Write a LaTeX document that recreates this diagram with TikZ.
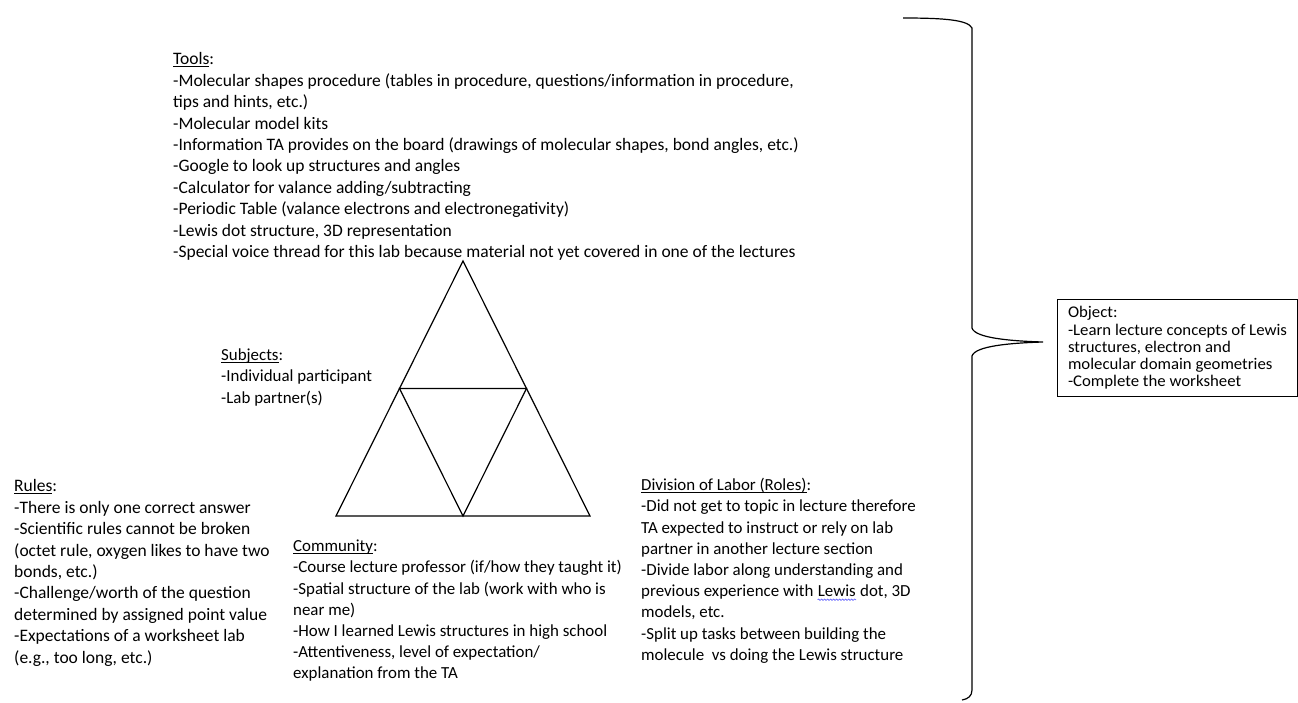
\documentclass[tikz,border=0pt]{standalone}
\usepackage{fontspec}
\setmainfont{Carlito}
\newfontfamily\objfont[FakeStretch=1.03]{Carlito}
\usepackage{xcolor}
\usetikzlibrary{decorations.pathmorphing}
\newcommand\ul[1]{\underline{\smash{#1}}}
\newcommand\spellwave[1]{\tikz[baseline=(lewisword.base)]{\node[inner sep=0pt,anchor=base] (lewisword) {#1};
  \draw[blue!65, line width=0.6pt, decorate, decoration={snake, amplitude=0.7pt, segment length=3pt}]
    ([yshift=-3pt]lewisword.base west) -- ([yshift=-3pt]lewisword.base east);}}
\begin{document}
\begin{tikzpicture}[x=1pt,y=-1pt,
  txt/.style={anchor=north west, inner sep=0pt, align=left, font=\fontsize{17.5}{21.4}\selectfont},
  txtsm/.style={txt, font=\fontsize{16.9}{21.2}\selectfont},
  objbox/.style={draw, line width=1pt, anchor=north west, inner xsep=10pt, inner ysep=0pt,
    minimum width=240pt, minimum height=97pt, align=left, font=\objfont\fontsize{16.3}{17.3}\selectfont},
  edge/.style={line width=1.2pt, line join=miter}]
\useasboundingbox (0,0) rectangle (1298,702);

% activity triangle
\coordinate (apex) at (463,261);
\coordinate (bl) at (336,516);
\coordinate (br) at (590,516);
\coordinate (ml) at (399.5,388.5);
\coordinate (mr) at (526.5,388.5);
\coordinate (mb) at (463,516);
\draw[edge] (apex) -- (bl) -- (br) -- cycle;
\draw[edge] (ml) -- (mr) -- (mb) -- cycle;

\node[txt] (tools) at (173,57) {\ul{Tools}:\\
-Molecular shapes procedure (tables in procedure, questions/information in procedure,\\
tips and hints, etc.)\\
-Molecular model kits\\
-Information TA provides on the board (drawings of molecular shapes, bond angles, etc.)\\
-Google to look up structures and angles\\
-Calculator for valance adding/subtracting\\
-Periodic Table (valance electrons and electronegativity)\\
-Lewis dot structure, 3D representation\\
-Special voice thread for this lab because material not yet covered in one of the lectures};

\node[txtsm] (subjects) at (221,353) {\ul{Subjects}:\\
-Individual participant\\
-Lab partner(s)};

\node[txt] (rules) at (14,484) {\ul{Rules}:\\
-There is only one correct answer\\
-Scientific rules cannot be broken\\
(octet rule, oxygen likes to have two\\
bonds, etc.)\\
-Challenge/worth of the question\\
determined by assigned point value\\
-Expectations of a worksheet lab\\
(e.g., too long, etc.)};

\node[txtsm] (community) at (293,544) {\ul{Community}:\\
-Course lecture professor (if/how they taught it)\\
-Spatial structure of the lab (work with who is\\
near me)\\
-How I learned Lewis structures in high school\\
-Attentiveness, level of expectation/\\
explanation from the TA};

\node[txtsm] (division) at (641,483) {\ul{Division of Labor (Roles)}:\\
-Did not get to topic in lecture therefore\\
TA expected to instruct or rely on lab\\
partner in another lecture section\\
-Divide labor along understanding and\\
previous experience with \spellwave{Lewis} dot, 3D\\
models, etc.\\
-Split up tasks between building the\\
molecule~ vs doing the Lewis structure};

\node[objbox] (object) at (1057,299) {Object:\\
-Learn lecture concepts of Lewis\\
structures, electron and\\
molecular domain geometries\\
-Complete the worksheet};

% brace
\draw[line width=1.2pt] (903,18) .. controls (945,18) and (968,20) .. (972,28)
  -- (972,328) .. controls (975,338) and (1010,341) .. (1043,342)
  .. controls (1010,343) and (975,346) .. (972,356)
  -- (972,690) .. controls (972,696) and (968,699) .. (962,700);
\end{tikzpicture}
\end{document}
